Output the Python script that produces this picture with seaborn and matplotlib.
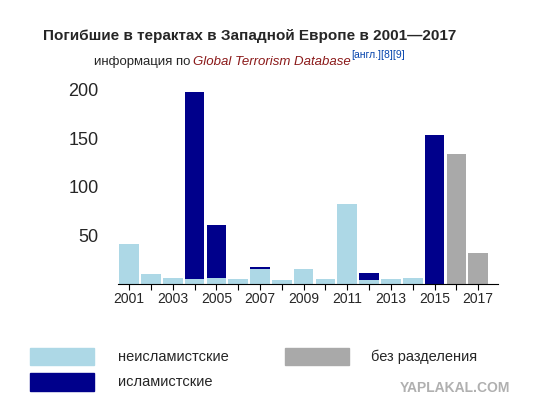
import matplotlib
matplotlib.use("Agg")
import matplotlib.pyplot as plt
import seaborn as sns
import pandas as pd

years = list(range(2001, 2018))
non_islamist = [41, 10, 6, 5, 6, 5, 16, 4, 16, 5, 82, 4, 5, 6, 0, 0, 0]
islamist = [0, 0, 0, 193, 55, 0, 2, 0, 0, 0, 0, 7, 0, 0, 153, 0, 0]
unspecified = [0, 0, 0, 0, 0, 0, 0, 0, 0, 0, 0, 0, 0, 0, 0, 134, 32]
tick_labels = [str(y) if y % 2 == 1 else "" for y in years]

df = pd.DataFrame({"year": [str(y) for y in years], "non": non_islamist,
                   "isl": islamist, "unk": unspecified})

sns.set_style("white")
plt.rcParams['font.family'] = ['Liberation Sans', 'DejaVu Sans']

fig = plt.figure(figsize=(5.37, 4.19), dpi=100)
ax = fig.add_axes([0.22, 0.322, 0.707, 0.487])
c_non, c_isl, c_unk = "#add8e6", "#00008b", "#a9a9a9"
kw = dict(ax=ax, width=0.9, saturation=1, linewidth=0)
sns.barplot(data=df, x="year", y="non", color=c_non, **kw)
sns.barplot(data=df, x="year", y="isl", color=c_isl, bottom=df["non"], **kw)
sns.barplot(data=df, x="year", y="unk", color=c_unk, bottom=df["non"] + df["isl"], **kw)
ax.set_ylim(0, 210)
ax.set_xlim(-0.5, 16.9)
ax.set_yticks([50, 100, 150, 200])
ax.set_yticklabels(["50", "100", "150", "200"], fontsize=13)
ax.set_xticks(range(len(years)))
ax.set_xticklabels(tick_labels, fontsize=10)
ax.tick_params(axis="x", length=4, width=0.8, color="black", bottom=True, pad=2)
ax.tick_params(axis="y", length=0, pad=14)
for s in ["top", "right", "left"]:
    ax.spines[s].set_visible(False)
ax.spines["bottom"].set_color("black")
ax.set_xlabel("")
ax.set_ylabel("")

fig.text(0.08, 0.905, "Погибшие в терактах в Западной Европе в 2001—2017",
         fontsize=11, fontweight="bold")
fig.text(0.175, 0.845, "информация по ", fontsize=9.5)
fig.text(0.36, 0.845, "Global Terrorism Database", fontsize=9.5, color="#8b1a1a", style="italic")
fig.text(0.655, 0.862, "[англ.][8][9]", fontsize=7.5, color="#0645ad")

fig.patches.append(plt.Rectangle((0.055, 0.128), 0.12, 0.042, color=c_non, transform=fig.transFigure))
fig.patches.append(plt.Rectangle((0.055, 0.068), 0.12, 0.042, color=c_isl, transform=fig.transFigure))
fig.patches.append(plt.Rectangle((0.53, 0.128), 0.12, 0.042, color=c_unk, transform=fig.transFigure))
fig.text(0.22, 0.149, "неисламистские", fontsize=10.5, va="center")
fig.text(0.22, 0.089, "исламистские", fontsize=10.5, va="center")
fig.text(0.69, 0.149, "без разделения", fontsize=10.5, va="center")
fig.text(0.95, 0.065, "YAPLAKAL.COM", fontsize=10, color="#b0b0b0", fontweight="bold", ha="right")

fig.savefig("out.png", dpi=100)
